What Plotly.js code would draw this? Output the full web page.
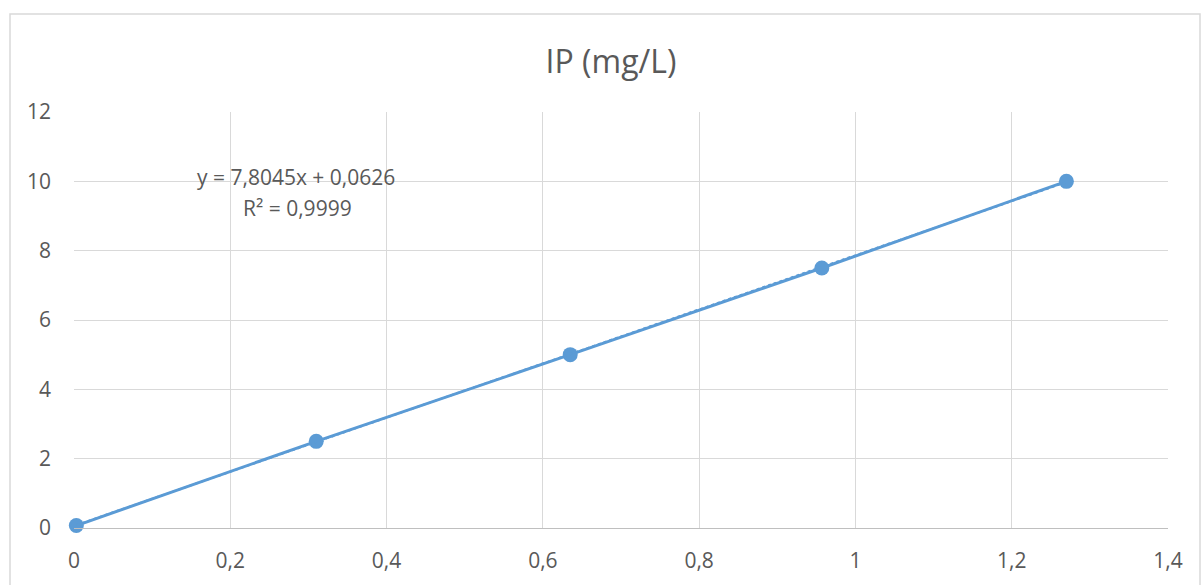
<!DOCTYPE html>
<html>
<head>
<meta charset="utf-8">
<script src="https://cdn.plot.ly/plotly-3.0.1.min.js"></script>
<style>
  html, body { margin: 0; padding: 0; background: #ffffff; }
  #chart { width: 1201px; height: 585px; }
</style>
</head>
<body>
<div id="chart"></div>
<script>
// Calibration points: absorbance vs IP concentration (mg/L)
const absorbance = [0.003, 0.31, 0.635, 0.957, 1.27];
const concentration = [0.07, 2.5, 5, 7.5, 10];

// Linear fit as reported on the chart
const slope = 7.8045;
const intercept = 0.0626;
const rSquared = 0.9999;

const xTicks = [0, 0.2, 0.4, 0.6, 0.8, 1, 1.2, 1.4];
const xTickText = ['0', '0,2', '0,4', '0,6', '0,8', '1', '1,2', '1,4'];
const yTicks = [0, 2, 4, 6, 8, 10, 12];

const fmt = v => String(v).replace('.', ',');
const blue = '#5B9BD5';
const txt = '#595959';
const font = 'Open Sans, Liberation Sans, sans-serif';

const fitX = [absorbance[0], absorbance[absorbance.length - 1]];
const fitY = fitX.map(x => slope * x + intercept);

const traces = [
  {
    x: absorbance, y: concentration, type: 'scatter', mode: 'lines+markers',
    line: { color: blue, width: 3 },
    marker: { color: blue, size: 15 },
    hoverinfo: 'x+y', showlegend: false, cliponaxis: false
  },
  {
    x: fitX, y: fitY, type: 'scatter', mode: 'lines',
    line: { color: blue, width: 2, dash: 'dot' },
    hoverinfo: 'skip', showlegend: false
  }
];

const layout = {
  width: 1201, height: 585,
  margin: { l: 74, r: 33, t: 112, b: 57 },
  paper_bgcolor: '#ffffff', plot_bgcolor: '#ffffff',
  font: { family: font, color: txt, size: 21 },
  title: {
    text: 'IP (mg/L)',
    font: { family: font, size: 32, color: txt },
    x: (611 - 74) / 1094, xref: 'paper', xanchor: 'center', y: 0.895, yanchor: 'middle'
  },
  xaxis: {
    range: [0, 1.4], tickvals: xTicks, ticktext: xTickText,
    showgrid: true, gridcolor: '#d9d9d9', gridwidth: 1,
    zeroline: false, showline: true, linecolor: '#bfbfbf', linewidth: 1,
    ticks: '', ticklabelstandoff: 14,
    tickfont: { family: font, size: 21, color: txt }, fixedrange: true
  },
  yaxis: {
    range: [0, 12], tickvals: yTicks, ticktext: yTicks.map(String),
    showgrid: true, gridcolor: '#d9d9d9', gridwidth: 1,
    zeroline: false, showline: false,
    ticks: '', ticklabelstandoff: 22,
    tickfont: { family: font, size: 21, color: txt }, fixedrange: true
  },
  annotations: [
    {
      xref: 'paper', yref: 'paper', x: (296 - 74) / 1094, y: (528 - 177) / 416,
      xanchor: 'center', yanchor: 'middle',
      text: 'y = ' + fmt(slope) + 'x + ' + fmt(intercept),
      showarrow: false, font: { family: font, size: 21, color: txt }
    },
    {
      xref: 'paper', yref: 'paper', x: (297 - 74) / 1094, y: (528 - 208) / 416,
      xanchor: 'center', yanchor: 'middle',
      text: 'R² = ' + fmt(rSquared),
      showarrow: false, font: { family: font, size: 21, color: txt }
    }
  ],
  shapes: [
    {
      type: 'rect', xref: 'paper', yref: 'paper',
      x0: (10 - 74) / 1094, x1: (1200 - 74) / 1094,
      y0: -0.2, y1: (528 - 14) / 416,
      line: { color: '#d9d9d9', width: 1.5 }, fillcolor: 'rgba(0,0,0,0)', layer: 'below'
    }
  ]
};

Plotly.newPlot('chart', traces, layout, { displayModeBar: false, staticPlot: true });
</script>
</body>
</html>
